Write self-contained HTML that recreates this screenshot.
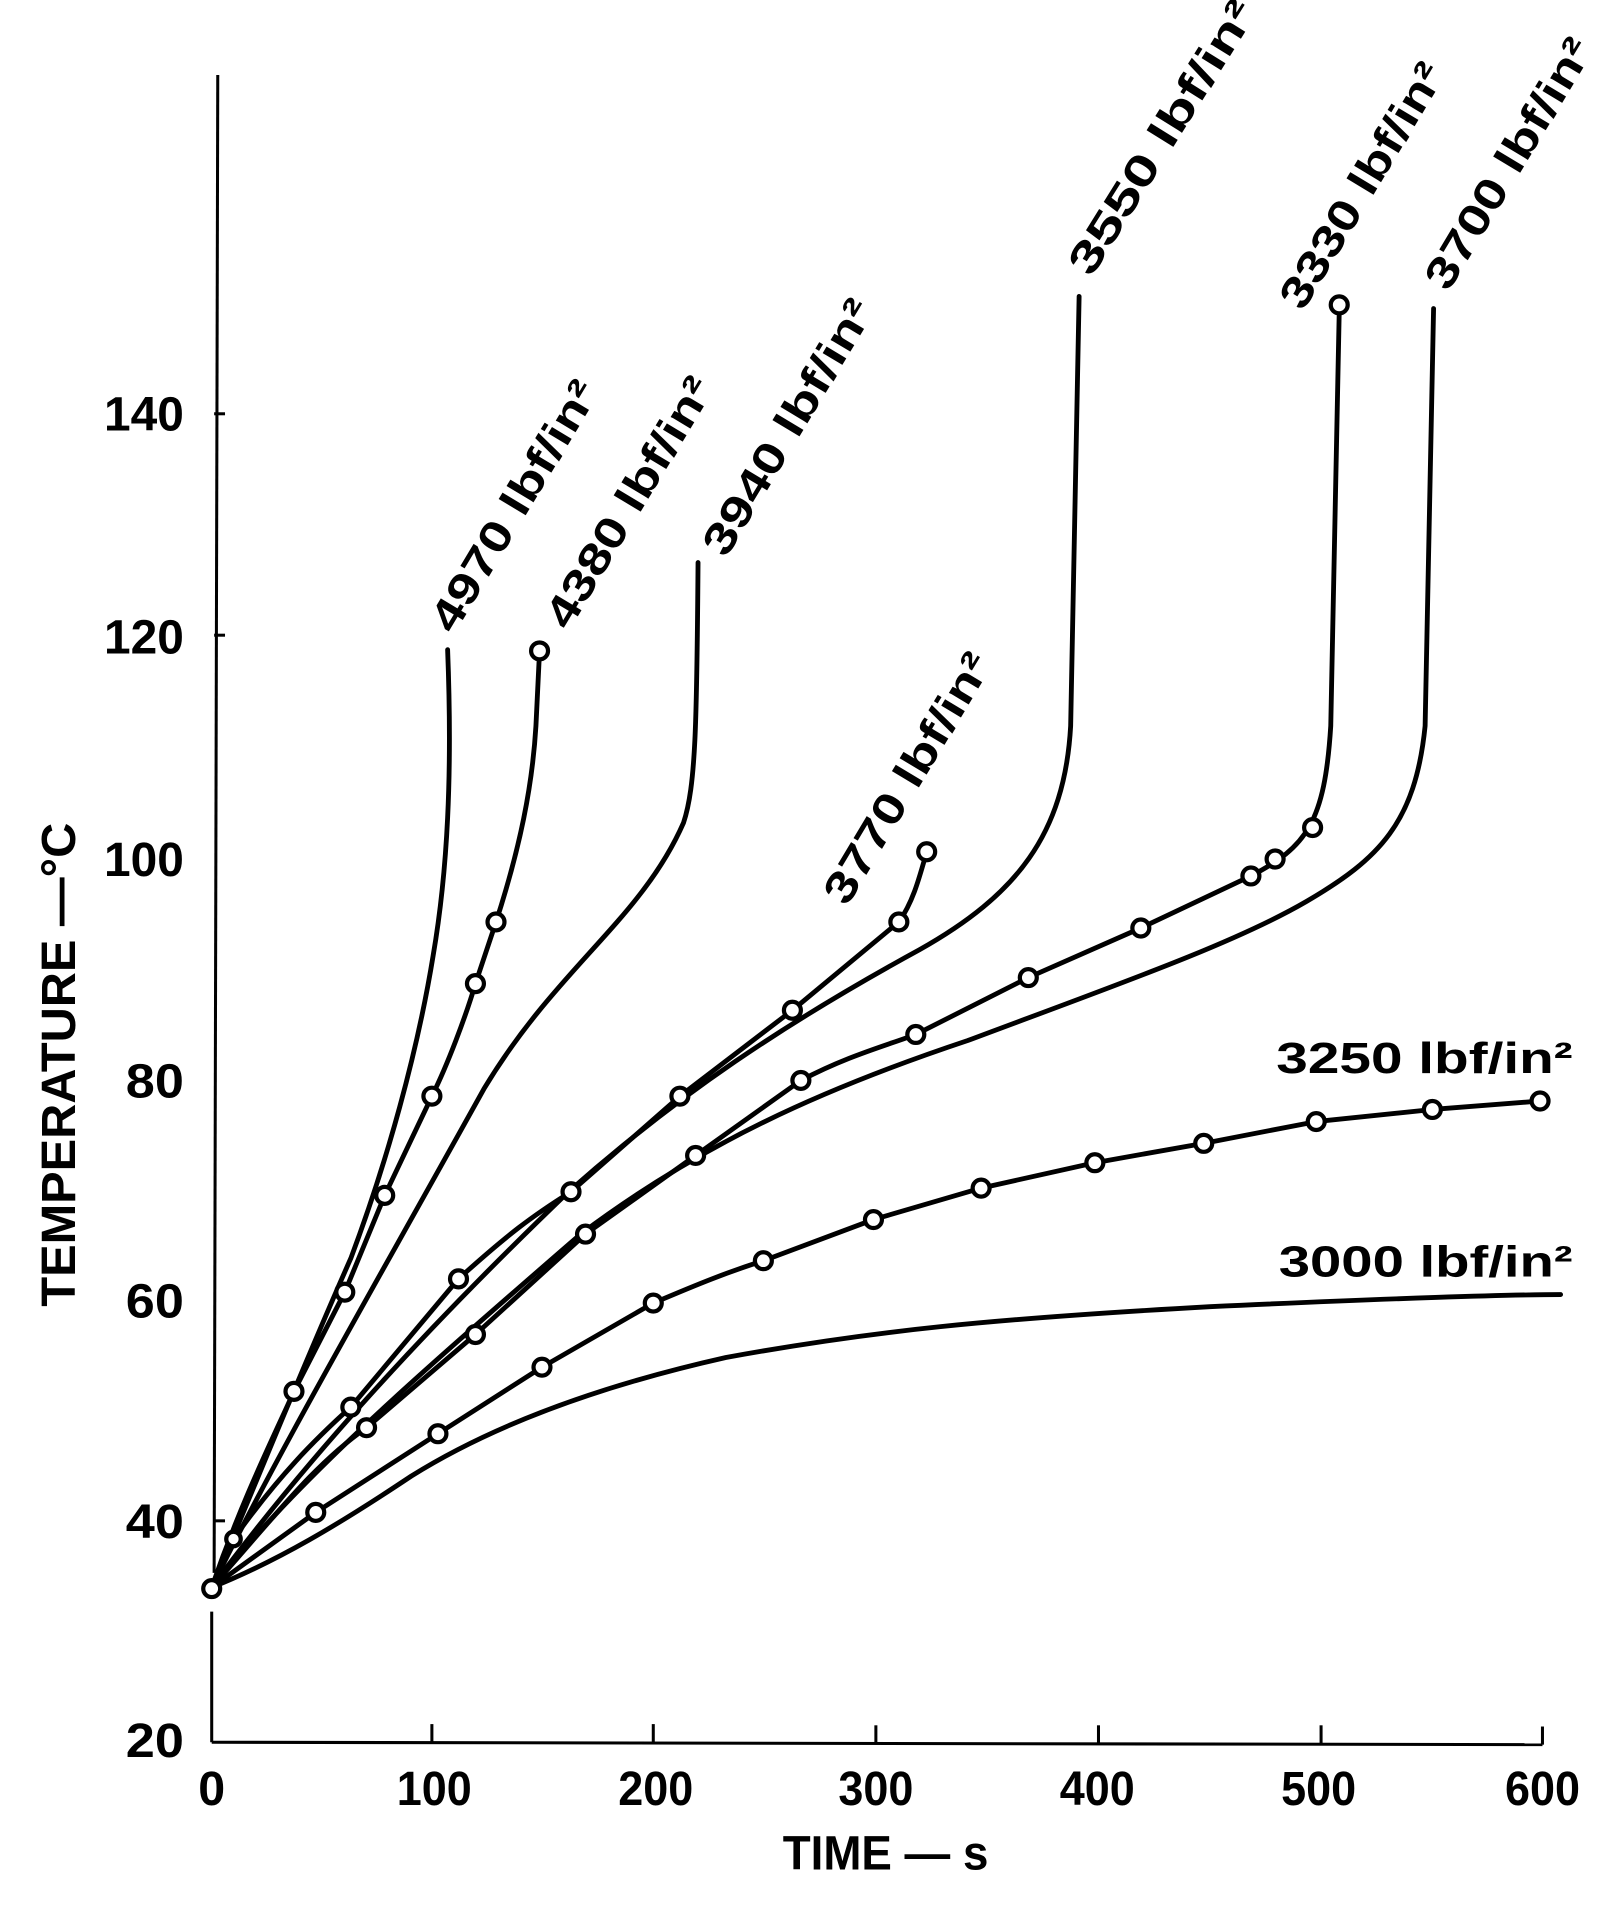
<!DOCTYPE html>
<html><head><meta charset="utf-8"><style>
html,body{margin:0;padding:0;background:#fff;}
svg{display:block;}
text{font-family:"Liberation Sans",sans-serif;font-weight:bold;fill:#000;}
</style></head><body>
<svg width="1609" height="1908" viewBox="0 0 1330 1577" preserveAspectRatio="none" xmlns="http://www.w3.org/2000/svg">
<rect width="1330" height="1577" fill="#fff"/>
<g stroke="#000" fill="none" stroke-width="2.5">
<line x1="180" y1="62" x2="177" y2="1300"/>
<line x1="175" y1="1332" x2="175" y2="1440"/>
<line x1="175" y1="1440" x2="1275" y2="1442"/>
<line x1="357" y1="1440" x2="357" y2="1425"/>
<line x1="540" y1="1440" x2="540" y2="1425"/>
<line x1="724" y1="1441" x2="724" y2="1426"/>
<line x1="908" y1="1441" x2="908" y2="1426"/>
<line x1="1092" y1="1441" x2="1092" y2="1426"/>
<line x1="1275" y1="1442" x2="1275" y2="1427"/>
<line x1="177" y1="342" x2="186" y2="342"/>
<line x1="177" y1="525" x2="186" y2="525"/>
<line x1="177" y1="1257" x2="186" y2="1257"/>
</g>
<g font-size="40" text-anchor="end">
<text x="152" y="356" textLength="66" lengthAdjust="spacingAndGlyphs">140</text>
<text x="152" y="540" textLength="66" lengthAdjust="spacingAndGlyphs">120</text>
<text x="152" y="724" textLength="66" lengthAdjust="spacingAndGlyphs">100</text>
<text x="152" y="907" textLength="48" lengthAdjust="spacingAndGlyphs">80</text>
<text x="152" y="1089" textLength="48" lengthAdjust="spacingAndGlyphs">60</text>
<text x="152" y="1271" textLength="48" lengthAdjust="spacingAndGlyphs">40</text>
<text x="152" y="1452" textLength="48" lengthAdjust="spacingAndGlyphs">20</text>
</g>
<g font-size="40" text-anchor="middle">
<text x="175" y="1492">0</text>
<text x="359" y="1492" textLength="62" lengthAdjust="spacingAndGlyphs">100</text>
<text x="542" y="1492" textLength="62" lengthAdjust="spacingAndGlyphs">200</text>
<text x="724" y="1492" textLength="62" lengthAdjust="spacingAndGlyphs">300</text>
<text x="907" y="1492" textLength="62" lengthAdjust="spacingAndGlyphs">400</text>
<text x="1090" y="1492" textLength="62" lengthAdjust="spacingAndGlyphs">500</text>
<text x="1275" y="1492" textLength="62" lengthAdjust="spacingAndGlyphs">600</text>
<text x="732" y="1545" textLength="170" lengthAdjust="spacingAndGlyphs">TIME — s</text>
<text transform="translate(62,880) rotate(-90)" textLength="400" lengthAdjust="spacingAndGlyphs">TEMPERATURE —°C</text>
</g>
<g stroke="#000" fill="none" stroke-width="4" stroke-linecap="round" stroke-linejoin="round">
<path d="M175,1312 C210,1230 250,1130 290,1040 C320,960 345,870 358,790 C370,720 374,640 370,537"/>
<path d="M175,1312 C200,1240 225,1190 243,1150 L285,1068 L318,988 L357,906 C370,880 385,840 393,813 L410,762 C430,700 440,650 443,600 L446,538"/>
<path d="M175,1312 C230,1200 300,1080 400,900 C460,800 530,760 565,680 C575,650 576,600 577,465"/>
<path d="M175,1312 L193,1272 C230,1220 260,1190 290,1163 L379,1057 C420,1020 440,1005 472,985 L562,906 L655,835 L743,762 C755,745 760,725 766,704"/>
<path d="M175,1312 C250,1210 350,1100 470,985 C560,905 650,845 760,785 C840,740 880,690 885,600 L892,245"/>
<path d="M175,1312 C230,1250 260,1210 303,1180 L393,1103 L484,1020 L575,955 L662,893 C700,873 730,865 757,855 L850,808 L943,767 L1034,724 C1080,700 1095,680 1100,600 L1107,258"/>
<path d="M175,1312 C250,1220 330,1150 480,1020 C580,945 680,900 800,860 C920,815 1020,780 1080,745 C1140,710 1170,680 1178,600 L1185,255"/>
<path d="M175,1312 L261,1250 L362,1185 L448,1130 L540,1077 C580,1060 600,1052 631,1042 L722,1008 L811,982 L905,961 L995,945 L1088,927 L1184,917 L1273,910"/>
<path d="M175,1312 C230,1290 280,1260 340,1220 C420,1170 520,1140 600,1122 C720,1100 820,1090 1000,1080 C1150,1073 1250,1070 1290,1070"/>
</g>
<g stroke="#000" fill="#fff" stroke-width="3.5">
<circle cx="175" cy="1313" r="7"/>
<circle cx="193" cy="1272" r="6"/>
<circle cx="243" cy="1150" r="7"/><circle cx="285" cy="1068" r="7"/><circle cx="318" cy="988" r="7"/><circle cx="357" cy="906" r="7"/><circle cx="393" cy="813" r="7"/><circle cx="410" cy="762" r="7"/><circle cx="446" cy="538" r="7"/>
<circle cx="290" cy="1163" r="7"/><circle cx="379" cy="1057" r="7"/><circle cx="472" cy="985" r="7"/><circle cx="562" cy="906" r="7"/><circle cx="655" cy="835" r="7"/><circle cx="743" cy="762" r="7"/><circle cx="766" cy="704" r="7"/>
<circle cx="303" cy="1180" r="7"/><circle cx="393" cy="1103" r="7"/><circle cx="484" cy="1020" r="7"/><circle cx="575" cy="955" r="7"/><circle cx="662" cy="893" r="7"/><circle cx="757" cy="855" r="7"/><circle cx="850" cy="808" r="7"/><circle cx="943" cy="767" r="7"/><circle cx="1034" cy="724" r="7"/><circle cx="1054" cy="710" r="7"/><circle cx="1085" cy="684" r="7"/><circle cx="1107" cy="252" r="7"/>
<circle cx="261" cy="1250" r="7"/><circle cx="362" cy="1185" r="7"/><circle cx="448" cy="1130" r="7"/><circle cx="540" cy="1077" r="7"/><circle cx="631" cy="1042" r="7"/><circle cx="722" cy="1008" r="7"/><circle cx="811" cy="982" r="7"/><circle cx="905" cy="961" r="7"/><circle cx="995" cy="945" r="7"/><circle cx="1088" cy="927" r="7"/><circle cx="1184" cy="917" r="7"/><circle cx="1273" cy="910" r="7"/>
</g>
<g font-size="36">
<text transform="translate(375,525) rotate(-59)" textLength="235" lengthAdjust="spacingAndGlyphs">4970 lbf/in²</text>
<text transform="translate(470,522) rotate(-59)" textLength="235" lengthAdjust="spacingAndGlyphs">4380 lbf/in²</text>
<text transform="translate(600,462) rotate(-59)" textLength="240" lengthAdjust="spacingAndGlyphs">3940 lbf/in²</text>
<text transform="translate(700,750) rotate(-59)" textLength="235" lengthAdjust="spacingAndGlyphs">3770 lbf/in²</text>
<text transform="translate(902,230) rotate(-58)" textLength="260" lengthAdjust="spacingAndGlyphs">3550 lbf/in²</text>
<text transform="translate(1077,258) rotate(-59)" textLength="230" lengthAdjust="spacingAndGlyphs">3330 lbf/in²</text>
<text transform="translate(1197,242) rotate(-59)" textLength="235" lengthAdjust="spacingAndGlyphs">3700 lbf/in²</text>
<text x="1055" y="887" textLength="245" lengthAdjust="spacingAndGlyphs">3250 lbf/in²</text>
<text x="1057" y="1055" textLength="243" lengthAdjust="spacingAndGlyphs">3000 lbf/in²</text>
</g>
</svg>
</body></html>
